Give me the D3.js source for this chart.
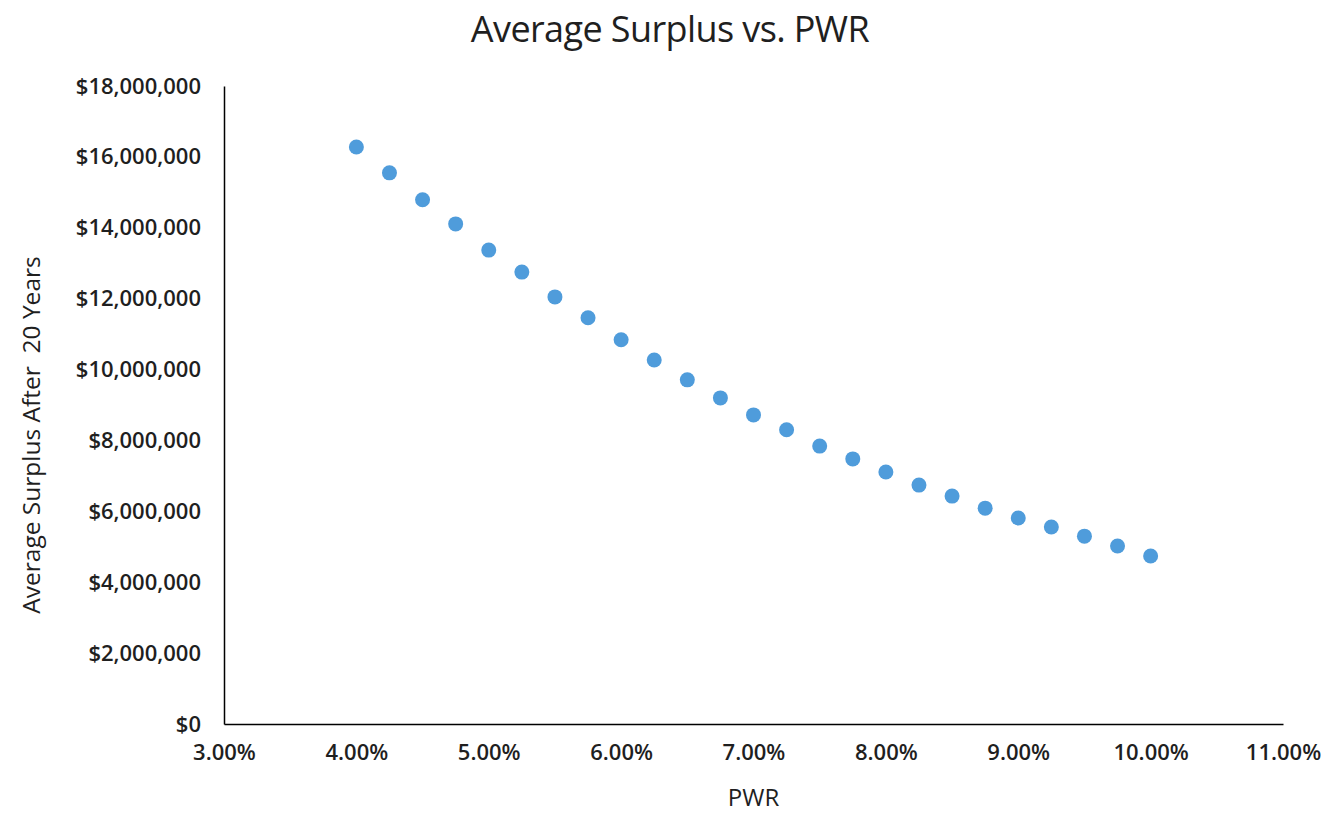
<!DOCTYPE html>
<html>
<head>
<meta charset="utf-8">
<script src="https://cdn.jsdelivr.net/npm/d3@7"></script>
<style>
  body { margin: 0; background: #fff; }
  text { font-family: "Open Sans", Lato, sans-serif; fill: #1f1f1f; }
</style>
</head>
<body>
<div id="chart-area"></div>
<script>
// PWR rates and average surplus after 20 years
var pwr = [0.04, 0.0425, 0.045, 0.0475, 0.05, 0.0525, 0.055, 0.0575, 0.06, 0.0625,
           0.065, 0.0675, 0.07, 0.0725, 0.075, 0.0775, 0.08, 0.0825, 0.085, 0.0875,
           0.09, 0.0925, 0.095, 0.0975, 0.10];
var surplus = [16280000, 15550000, 14790000, 14110000, 13370000, 12750000, 12050000, 11460000,
               10840000, 10270000, 9710000, 9200000, 8720000, 8300000, 7840000, 7480000,
               7110000, 6740000, 6430000, 6090000, 5810000, 5560000, 5300000, 5020000, 4740000];
var xTicks = [0.03, 0.04, 0.05, 0.06, 0.07, 0.08, 0.09, 0.10, 0.11];
var yTicks = [0, 2e6, 4e6, 6e6, 8e6, 10e6, 12e6, 14e6, 16e6, 18e6];

var W = 1341, H = 815;
var margin = {left: 224, right: 58, top: 86, bottom: 91};
var width = W - margin.left - margin.right;
var height = H - margin.top - margin.bottom;

var svg = d3.select("#chart-area")
    .append("svg")
        .attr("width", W)
        .attr("height", H);

var g = svg.append("g")
    .attr("transform", "translate(" + margin.left + "," + margin.top + ")");

var x = d3.scaleLinear().domain([0.03, 0.11]).range([0, width]);
var y = d3.scaleLinear().domain([0, 18e6]).range([height, 0]);

// title
svg.append("text")
    .attr("x", 670)
    .attr("y", 42)
    .attr("text-anchor", "middle")
    .attr("font-size", "36px")
    .attr("font-weight", 500)
    .attr("letter-spacing", "-0.6px")
    .text("Average Surplus vs. PWR");

// axes
var xAxis = g.append("g")
    .attr("transform", "translate(0," + height + ")")
    .call(d3.axisBottom(x).tickValues(xTicks).tickSize(0).tickPadding(20)
        .tickFormat(d3.format(".2%")));
var yAxis = g.append("g")
    .call(d3.axisLeft(y).tickValues(yTicks).tickSize(0).tickPadding(23)
        .tickFormat(function(d){ return "$" + d3.format(",")(d); }));

[xAxis, yAxis].forEach(function(a){
    a.select(".domain").attr("stroke", "#000").attr("stroke-width", 1.5);
    a.selectAll("text").attr("font-size", "22px").attr("fill", "#1f1f1f")
        .attr("font-weight", 600)
        .attr("font-family", "'Open Sans', Lato, sans-serif");
});

// axis titles
svg.append("text")
    .attr("x", margin.left + width / 2)
    .attr("y", 806)
    .attr("text-anchor", "middle")
    .attr("font-size", "24px")
    .attr("font-weight", 500)
    .text("PWR");

svg.append("text")
    .attr("transform", "translate(40," + (margin.top + height / 2 + 30) + ") rotate(-90)")
    .attr("text-anchor", "middle")
    .attr("font-size", "24.5px")
    .attr("font-weight", 500)
    .style("white-space", "pre")
    .text("Average Surplus After  20 Years");

// points
g.selectAll("circle")
    .data(pwr)
    .enter()
    .append("circle")
        .attr("cx", function(d){ return x(d); })
        .attr("cy", function(d, i){ return y(surplus[i]); })
        .attr("r", 7.5)
        .attr("fill", "#4f9cdb");
</script>
</body>
</html>
